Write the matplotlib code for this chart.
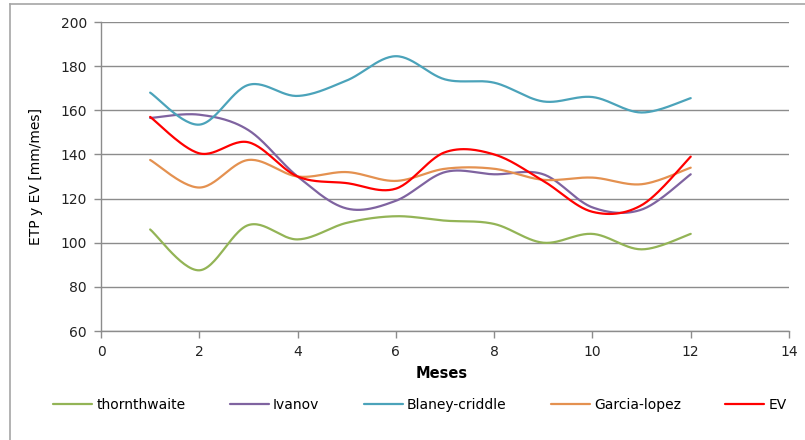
import numpy as np
import matplotlib.pyplot as plt
from matplotlib.lines import Line2D

plt.rcParams['font.family'] = ['DejaVu Sans']

# %%
# Data
meses = [1, 2, 3, 4, 5, 6, 7, 8, 9, 10, 11, 12]
thornthwaite = [106, 87.5, 108, 101.5, 109, 112, 110, 108.5, 100, 104, 97, 104]
ivanov = [156.5, 158, 151, 130, 115.5, 119, 132, 131, 131, 116, 115, 131]
blaney = [168, 153.5, 171.5, 166.5, 173.5, 184.5, 174, 172.5, 164, 166, 159, 165.5]
garcia = [137.5, 125, 137.5, 130, 132, 128, 133.5, 133.5, 128.5, 129.5, 126.5, 134]
ev = [157, 140.5, 145.5, 130, 127, 124.5, 141, 140, 128, 114, 117, 139]

SERIES = [('thornthwaite', thornthwaite, '#93B456'),
          ('Ivanov', ivanov, '#7F63A0'),
          ('Blaney-criddle', blaney, '#4BA3BA'),
          ('Garcia-lopez', garcia, '#E49150'),
          ('EV', ev, '#FF0000')]


# %%
def smooth(x, y, n=30):
    # Excel style smoothed line (Bezier through the points)
    x = np.asarray(x, float)
    y = np.asarray(y, float)
    px = np.concatenate([[x[0]], x, [x[-1]]])
    py = np.concatenate([[y[0]], y, [y[-1]]])
    xs, ys = [], []
    t = np.linspace(0, 1, n)
    for i in range(1, len(px) - 2):
        p0, p1, p2, p3 = px[i - 1], px[i], px[i + 1], px[i + 2]
        q0, q1, q2, q3 = py[i - 1], py[i], py[i + 1], py[i + 2]
        c1x, c1y = p1 + (p2 - p0) / 6, q1 + (q2 - q0) / 6
        c2x, c2y = p2 - (p3 - p1) / 6, q2 - (q3 - q1) / 6
        bx = (1-t)**3*p1 + 3*(1-t)**2*t*c1x + 3*(1-t)*t**2*c2x + t**3*p2
        by = (1-t)**3*q1 + 3*(1-t)**2*t*c1y + 3*(1-t)*t**2*c2y + t**3*q2
        xs.append(bx)
        ys.append(by)
    return np.concatenate(xs), np.concatenate(ys)


# %%
fig = plt.figure(figsize=(8.05, 4.40), dpi=100)
ax = fig.add_axes([101/805, 1 - 331/440, 688/805, 309/440])

for name, vals, col in SERIES:
    sx, sy = smooth(meses, vals)
    ax.plot(sx, sy, color=col, lw=1.6, label=name, solid_capstyle='round')

ax.set_xlim(0, 14)
ax.set_ylim(60, 200)
ax.set_xticks(np.arange(0, 15, 2))
ax.set_yticks(np.arange(60, 201, 20))
ax.grid(axis='y', color='#8C8C8C', lw=1)
ax.set_axisbelow(True)
for s in ['top', 'right']:
    ax.spines[s].set_visible(False)
for s in ['left', 'bottom']:
    ax.spines[s].set_color('#8C8C8C')
    ax.spines[s].set_linewidth(1)
ax.tick_params(axis='both', colors='#8C8C8C', labelcolor='#222222', labelsize=10,
               length=5, width=1)
ax.tick_params(axis='y', pad=5)
ax.tick_params(axis='x', pad=5)

ax.set_xlabel('Meses', fontsize=10.5, fontweight='bold')
ax.xaxis.set_label_coords((442 - 101) / 688, -(366 - 331) / 309)
ax.set_ylabel('ETP y EV [mm/mes]', fontsize=10)
ax.yaxis.set_label_coords(-(101 - 43) / 688, 0.5)

ax.legend(loc='center', bbox_to_anchor=(420/805, 1 - 405/440), bbox_transform=fig.transFigure,
          ncol=5, frameon=False, fontsize=10, handlelength=2.8, columnspacing=3.2,
          handletextpad=0.3)

# chart area border (Excel frame)
fig.add_artist(Line2D([10/805, 10/805], [0, 1 - 4/440], color='#A6A6A6', lw=1.2))
fig.add_artist(Line2D([10/805, 1], [1 - 4/440, 1 - 4/440], color='#A6A6A6', lw=1.2))

plt.savefig('out.png', dpi=100)
